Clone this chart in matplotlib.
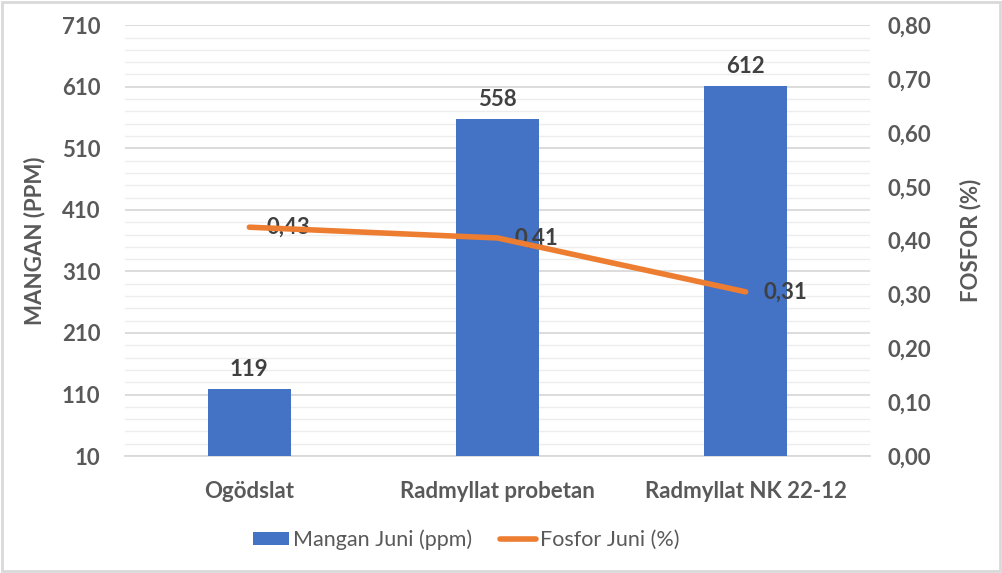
import numpy as np
import matplotlib.pyplot as plt
from matplotlib.ticker import FixedLocator

# data
kategorier = ['Ogödslat', 'Radmyllat probetan', 'Radmyllat NK 22-12']
mangan = [119, 558, 612]
fosfor = [0.425, 0.405, 0.305]
mangan_etiketter = ['119', '558', '612']
fosfor_etiketter = ['0,43', '0,41', '0,31']

plt.rcParams['font.family'] = ['Lato', 'DejaVu Sans']
grå = '#595959'
mörk = '#404040'
fs = 16

fig = plt.figure(figsize=(10.02, 5.73), dpi=100)
ax = fig.add_axes([0.125, 0.204, 0.743, 0.752])
ax2 = ax.twinx()

x = np.arange(len(kategorier))
ax.bar(x, mangan, width=0.335, color='#4472C4', zorder=3, label='Mangan Juni (ppm)')
for xi, v, t in zip(x, mangan, mangan_etiketter):
    ax.text(xi, v + 14, t, ha='center', va='bottom', fontsize=fs, fontweight='bold', color=mörk)

ax.set_xlim(-0.5, 2.5)
ax.set_ylim(10, 710)
ax.yaxis.set_major_locator(FixedLocator(np.arange(10, 711, 100)))
ax.yaxis.set_minor_locator(FixedLocator(np.arange(10, 711, 20)))
ax.grid(axis='y', which='major', color='#d9d9d9', lw=1.3, zorder=0)
ax.grid(axis='y', which='minor', color='#ededed', lw=1.0, zorder=0)
ax.set_xticks(x)
ax.set_xticklabels(kategorier)
ax.set_ylabel('MANGAN (PPM)', fontsize=fs, fontweight='bold', color=grå)
ax.yaxis.set_label_coords(-0.107, 0.5)

ax2.plot(x, fosfor, color='#ED7D31', lw=4, solid_capstyle='round', zorder=4, label='Fosfor Juni (%)')
for xi, v, t in zip(x, fosfor, fosfor_etiketter):
    ax2.text(xi + 0.07, v, t, ha='left', va='center', fontsize=fs, fontweight='bold', color=mörk)
ax2.set_ylim(0, 0.8)
ax2.set_yticks(np.arange(0, 0.81, 0.1))
ax2.set_yticklabels([f'{v:.2f}'.replace('.', ',') for v in np.arange(0, 0.81, 0.1)])
ax2.set_ylabel('FOSFOR (%)', fontsize=fs, fontweight='bold', color=grå, rotation=90)
ax2.yaxis.set_label_coords(1.121, 0.5)

for a in (ax, ax2):
    for s in a.spines.values():
        s.set_visible(False)
    a.tick_params(length=0, labelsize=fs, colors=grå)
    for lbl in a.get_yticklabels():
        lbl.set_fontweight('bold')
ax.tick_params(axis='y', pad=18)
ax2.tick_params(axis='y', pad=13)
ax.tick_params(axis='x', pad=18)
for lbl in ax.get_xticklabels():
    lbl.set_fontweight('bold')
ax.spines['bottom'].set_visible(True)
ax.spines['bottom'].set_color('#d9d9d9')
ax.spines['bottom'].set_linewidth(1.3)
ax.tick_params(axis='y', which='minor', length=0)

h1, l1 = ax.get_legend_handles_labels()
h2, l2 = ax2.get_legend_handles_labels()
leg = fig.legend(h1 + h2, l1 + l2, loc='center', bbox_to_anchor=(0.465, 0.058), ncol=2,
                 frameon=False, fontsize=15.5, handlelength=1.7, handleheight=0.6,
                 handletextpad=0.15, columnspacing=1.3)
for t in leg.get_texts():
    t.set_color(grå)

fig.patches.append(plt.Rectangle((0.002, 0.003), 0.996, 0.994, transform=fig.transFigure,
                                 fill=False, edgecolor='#d9d9d9', lw=2))
fig.savefig('out.png', dpi=100)
